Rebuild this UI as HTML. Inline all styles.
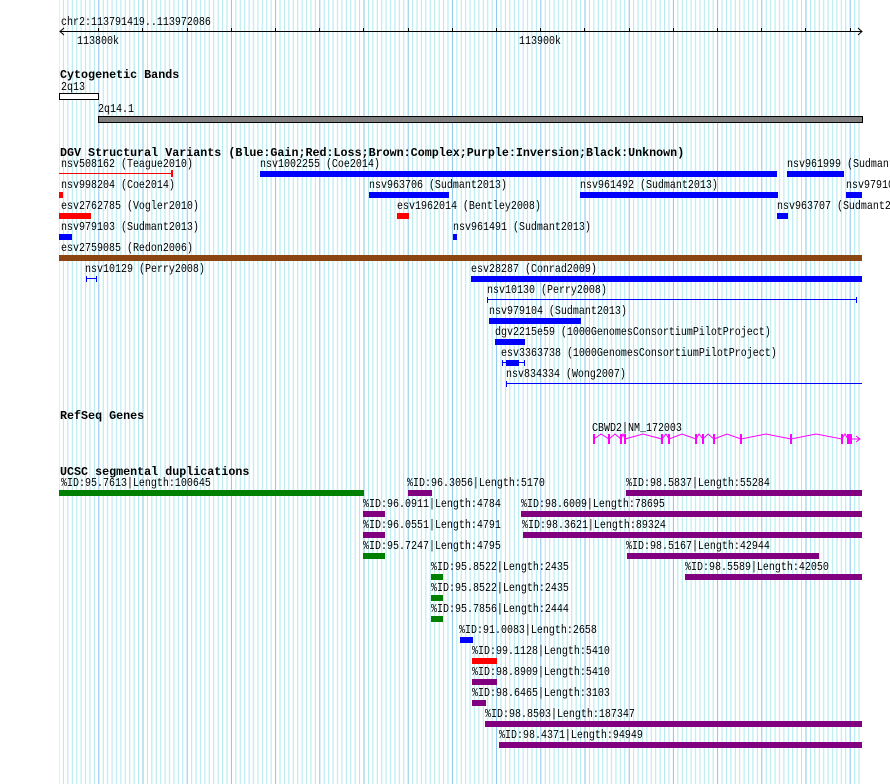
<!DOCTYPE html>
<html><head><meta charset="utf-8"><style>
html,body{margin:0;padding:0;background:#fff;}
svg{display:block;}
text{font-family:"Liberation Mono",monospace;font-size:10px;fill:#000;}
text.n{transform-box:fill-box;transform-origin:0 80%;transform:scaleY(1.15);}
.b{font-weight:bold;font-size:11.7px;}
</style></head><body>
<svg width="890" height="784" viewBox="0 0 890 784" xmlns="http://www.w3.org/2000/svg">
<defs>
<pattern id="g" x="98.3" y="0" width="44.2" height="784" patternUnits="userSpaceOnUse">
<rect x="0" y="0" width="1" height="784" fill="#88c4ee"/>
<rect x="4.42" y="0" width="1" height="784" fill="#aee8ee"/>
<rect x="8.84" y="0" width="1" height="784" fill="#aee8ee"/>
<rect x="13.26" y="0" width="1" height="784" fill="#aee8ee"/>
<rect x="17.68" y="0" width="1" height="784" fill="#aee8ee"/>
<rect x="22.1" y="0" width="1" height="784" fill="#aee8ee"/>
<rect x="26.52" y="0" width="1" height="784" fill="#aee8ee"/>
<rect x="30.94" y="0" width="1" height="784" fill="#aee8ee"/>
<rect x="35.36" y="0" width="1" height="784" fill="#aee8ee"/>
<rect x="39.78" y="0" width="1" height="784" fill="#aee8ee"/>
</pattern>
</defs>
<rect x="59" y="0" width="803" height="784" fill="url(#g)"/>

<!-- ruler -->
<text class="n" x="61" y="25">chr2:113791419..113972086</text>
<line x1="60" y1="31.5" x2="862" y2="31.5" stroke="#000"/>
<polyline points="64,28 60,31.5 64,35" fill="none" stroke="#000"/>
<polyline points="858,28 862,31.5 858,35" fill="none" stroke="#000"/>
<g stroke="#000">
<line x1="98.5" y1="28" x2="98.5" y2="32"/><line x1="142.5" y1="28" x2="142.5" y2="32"/><line x1="187.5" y1="28" x2="187.5" y2="32"/><line x1="231.5" y1="28" x2="231.5" y2="32"/><line x1="275.5" y1="28" x2="275.5" y2="32"/><line x1="319.5" y1="28" x2="319.5" y2="32"/><line x1="363.5" y1="28" x2="363.5" y2="32"/><line x1="408.5" y1="28" x2="408.5" y2="32"/><line x1="452.5" y1="28" x2="452.5" y2="32"/><line x1="496.5" y1="28" x2="496.5" y2="32"/><line x1="540.5" y1="28" x2="540.5" y2="32"/><line x1="584.5" y1="28" x2="584.5" y2="32"/><line x1="629.5" y1="28" x2="629.5" y2="32"/><line x1="673.5" y1="28" x2="673.5" y2="32"/><line x1="717.5" y1="28" x2="717.5" y2="32"/><line x1="761.5" y1="28" x2="761.5" y2="32"/><line x1="805.5" y1="28" x2="805.5" y2="32"/><line x1="850.5" y1="28" x2="850.5" y2="32"/>
</g>
<text class="n" x="77" y="44">113800k</text>
<text class="n" x="519" y="44">113900k</text>

<!-- cytobands -->
<text class="b" x="60" y="78">Cytogenetic Bands</text>
<text class="n" x="61" y="90">2q13</text>
<rect x="59.5" y="93.5" width="39" height="6" fill="#fff" stroke="#000"/>
<text class="n" x="98" y="112">2q14.1</text>
<rect x="98.5" y="116.5" width="764" height="6" fill="#808080" stroke="#000"/>

<!-- DGV -->
<text class="b" x="60" y="156">DGV Structural Variants (Blue:Gain;Red:Loss;Brown:Complex;Purple:Inversion;Black:Unknown)</text>
<text class="n" x="61" y="167">nsv508162 (Teague2010)</text>
<line x1="59" y1="173.5" x2="172" y2="173.5" stroke="#f00"/>
<rect x="171" y="170" width="2" height="7" fill="#f00"/>
<text class="n" x="260" y="167">nsv1002255 (Coe2014)</text>
<rect x="260" y="171" width="517" height="6" fill="#00f"/>
<text class="n" x="787" y="167">nsv961999 (Sudmant2013)</text>
<rect x="787" y="171" width="57" height="6" fill="#00f"/>

<text class="n" x="61" y="188">nsv998204 (Coe2014)</text>
<rect x="59" y="192" width="4" height="6" fill="#f00"/>
<text class="n" x="369" y="188">nsv963706 (Sudmant2013)</text>
<rect x="369" y="192" width="80" height="6" fill="#00f"/>
<text class="n" x="580" y="188">nsv961492 (Sudmant2013)</text>
<rect x="580" y="192" width="198" height="6" fill="#00f"/>
<text class="n" x="846" y="188">nsv979104</text>
<rect x="846" y="192" width="16" height="6" fill="#00f"/>

<text class="n" x="61" y="209">esv2762785 (Vogler2010)</text>
<rect x="59" y="213" width="32" height="6" fill="#f00"/>
<text class="n" x="397" y="209">esv1962014 (Bentley2008)</text>
<rect x="397" y="213" width="12" height="6" fill="#f00"/>
<text class="n" x="777" y="209">nsv963707 (Sudmant2013)</text>
<rect x="777" y="213" width="11" height="6" fill="#00f"/>

<text class="n" x="61" y="230">nsv979103 (Sudmant2013)</text>
<rect x="59" y="234" width="13" height="6" fill="#00f"/>
<text class="n" x="453" y="230">nsv961491 (Sudmant2013)</text>
<rect x="453" y="234" width="4" height="6" fill="#00f"/>

<text class="n" x="61" y="251">esv2759085 (Redon2006)</text>
<rect x="59" y="255" width="803" height="6" fill="#8b4513"/>

<text class="n" x="85" y="272">nsv10129 (Perry2008)</text>
<line x1="86" y1="278.5" x2="96" y2="278.5" stroke="#00f"/>
<rect x="86" y="276" width="1" height="6" fill="#00f"/><rect x="96" y="276" width="1" height="6" fill="#00f"/>
<text class="n" x="471" y="272">esv28287 (Conrad2009)</text>
<rect x="471" y="276" width="391" height="6" fill="#00f"/>

<text class="n" x="487" y="293">nsv10130 (Perry2008)</text>
<line x1="487" y1="299.5" x2="857" y2="299.5" stroke="#00f"/>
<rect x="487" y="297" width="1" height="6" fill="#00f"/><rect x="856" y="297" width="1" height="6" fill="#00f"/>

<text class="n" x="489" y="314">nsv979104 (Sudmant2013)</text>
<rect x="489" y="318" width="92" height="6" fill="#00f"/>

<text class="n" x="495" y="335">dgv2215e59 (1000GenomesConsortiumPilotProject)</text>
<rect x="495" y="339" width="30" height="6" fill="#00f"/>

<text class="n" x="501" y="356">esv3363738 (1000GenomesConsortiumPilotProject)</text>
<line x1="502" y1="362.5" x2="524" y2="362.5" stroke="#00f"/>
<rect x="502" y="360" width="1" height="6" fill="#00f"/><rect x="524" y="360" width="1" height="6" fill="#00f"/>
<rect x="506" y="360" width="13" height="6" fill="#00f"/>

<text class="n" x="506" y="377">nsv834334 (Wong2007)</text>
<line x1="506" y1="383.5" x2="862" y2="383.5" stroke="#00f"/>
<rect x="506" y="381" width="1" height="6" fill="#00f"/>

<!-- RefSeq -->
<text class="b" x="60" y="419">RefSeq Genes</text>
<text class="n" x="592" y="431">CBWD2|NM_172003</text>
<polyline fill="none" stroke="#f0f" points="594,439 601,434 609,439 615,434 621,439 623,434 625,439 643,434 662,439 666,434 669,439 682,434 696,439 699,434 703,439 708,434 714,439 727,434 741,439 766,434 791,439 816,434 842,439 845,434 848,439 860,439"/>
<polyline fill="none" stroke="#f0f" points="856,436 860,439 856,442"/>
<g fill="#f0f">
<rect x="593" y="434" width="2" height="10"/><rect x="608" y="434" width="2" height="10"/><rect x="620" y="434" width="2" height="10"/><rect x="624" y="434" width="2" height="10"/><rect x="661" y="434" width="2" height="10"/><rect x="668" y="434" width="2" height="10"/><rect x="695" y="434" width="2" height="10"/><rect x="702" y="434" width="2" height="10"/><rect x="713" y="434" width="2" height="10"/><rect x="740" y="434" width="2" height="10"/><rect x="790" y="434" width="2" height="10"/><rect x="841" y="434" width="2" height="10"/><rect x="847" y="434" width="5" height="10"/>
</g>

<!-- segdups -->
<text class="b" x="60" y="475">UCSC segmental duplications</text>
<text class="n" x="61" y="486">%ID:95.7613|Length:100645</text>
<rect x="59" y="490" width="305" height="6" fill="#008000"/>
<text class="n" x="407" y="486">%ID:96.3056|Length:5170</text>
<rect x="408" y="490" width="24" height="6" fill="#800080"/>
<text class="n" x="626" y="486">%ID:98.5837|Length:55284</text>
<rect x="626" y="490" width="236" height="6" fill="#800080"/>

<text class="n" x="363" y="507">%ID:96.0911|Length:4784</text>
<rect x="363" y="511" width="22" height="6" fill="#800080"/>
<text class="n" x="521" y="507">%ID:98.6009|Length:78695</text>
<rect x="521" y="511" width="341" height="6" fill="#800080"/>

<text class="n" x="363" y="528">%ID:96.0551|Length:4791</text>
<rect x="363" y="532" width="22" height="6" fill="#800080"/>
<text class="n" x="522" y="528">%ID:98.3621|Length:89324</text>
<rect x="523" y="532" width="339" height="6" fill="#800080"/>

<text class="n" x="363" y="549">%ID:95.7247|Length:4795</text>
<rect x="363" y="553" width="22" height="6" fill="#008000"/>
<text class="n" x="626" y="549">%ID:98.5167|Length:42944</text>
<rect x="627" y="553" width="192" height="6" fill="#800080"/>

<text class="n" x="431" y="570">%ID:95.8522|Length:2435</text>
<rect x="431" y="574" width="12" height="6" fill="#008000"/>
<text class="n" x="685" y="570">%ID:98.5589|Length:42050</text>
<rect x="685" y="574" width="177" height="6" fill="#800080"/>

<text class="n" x="431" y="591">%ID:95.8522|Length:2435</text>
<rect x="431" y="595" width="12" height="6" fill="#008000"/>

<text class="n" x="431" y="612">%ID:95.7856|Length:2444</text>
<rect x="431" y="616" width="12" height="6" fill="#008000"/>

<text class="n" x="459" y="633">%ID:91.0083|Length:2658</text>
<rect x="460" y="637" width="13" height="6" fill="#00f"/>

<text class="n" x="472" y="654">%ID:99.1128|Length:5410</text>
<rect x="472" y="658" width="25" height="6" fill="#f00"/>

<text class="n" x="472" y="675">%ID:98.8909|Length:5410</text>
<rect x="472" y="679" width="25" height="6" fill="#800080"/>

<text class="n" x="472" y="696">%ID:98.6465|Length:3103</text>
<rect x="472" y="700" width="14" height="6" fill="#800080"/>

<text class="n" x="485" y="717">%ID:98.8503|Length:187347</text>
<rect x="485" y="721" width="377" height="6" fill="#800080"/>

<text class="n" x="499" y="738">%ID:98.4371|Length:94949</text>
<rect x="499" y="742" width="363" height="6" fill="#800080"/>
</svg>
</body></html>
